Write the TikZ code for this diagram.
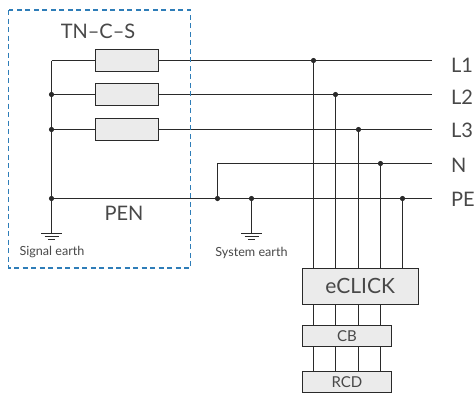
\documentclass[tikz,border=0pt]{standalone}
\usepackage{fontspec}
\setmainfont{Lato}
\definecolor{ink}{HTML}{2A2A2A}
\definecolor{boxfill}{HTML}{EBEBEB}
\definecolor{framecol}{HTML}{2E7DB8}
\definecolor{txt}{HTML}{484848}
\tikzset{
  wire/.style={draw=ink,line width=1.2pt},
  fuse/.style={draw=ink,fill=boxfill,line width=1.3pt,minimum width=63pt,minimum height=21.5pt,inner sep=0pt,anchor=west},
  module/.style={draw=ink,fill=boxfill,line width=1.3pt,inner sep=0pt,text=txt,anchor=north west},
  jn/.style={circle,fill=ink,inner sep=0pt,minimum size=5.2pt},
  lbl/.style={text=txt,font=\fontsize{20}{22}\selectfont,inner sep=0pt},
  small/.style={text=txt,font=\fontsize{12.6}{14}\selectfont,inner sep=0pt}
}
\begin{document}
\begin{tikzpicture}[x=1pt,y=-1pt]
\useasboundingbox (0,0) rectangle (476,392);
% fuses
\node[fuse] (f1) at (95,60.5) {};
\node[fuse] (f2) at (95,94.5) {};
\node[fuse] (f3) at (95,129.5) {};
% modules
\node[module,minimum width=116pt,minimum height=36.5pt,font=\fontsize{21}{23}\selectfont] (eclick) at (301.5,267.5) {eCLICK};
\node[module,minimum width=89.5pt,minimum height=21.5pt,font=\fontsize{15}{17}\selectfont] (cb) at (301.5,324.5) {CB};
\node[module,minimum width=89.5pt,minimum height=21.5pt,font=\fontsize{15}{17}\selectfont] (rcd) at (301.5,370.5) {RCD};
% free ends
\coordinate (a1) at (51.5,60.5);
\coordinate (a2) at (51.5,94.5);
\coordinate (a3) at (51.5,129.5);
\coordinate (a5) at (51.5,198.5);
\coordinate (g1) at (51.5,233.5);
\coordinate (e1) at (432,60.5);
\coordinate (e2) at (432,94.5);
\coordinate (e3) at (432,129.5);
\coordinate (e4) at (432,163.5);
\coordinate (e5) at (432,198.5);
\coordinate (nj) at (217.5,198.5);
\coordinate (nc) at (217.5,163.5);
\coordinate (sj) at (251.5,198.5);
\coordinate (g2) at (251.5,233.5);
% wires
\draw[wire] (a1) -- (f1.west);
\draw[wire] (a2) -- (f2.west);
\draw[wire] (a3) -- (f3.west);
\draw[wire] (a1) -- (g1);
\draw[wire] (f1.east) -- (e1);
\draw[wire] (f2.east) -- (e2);
\draw[wire] (f3.east) -- (e3);
\draw[wire] (nj) -- (nc) -- (e4);
\draw[wire] (a5) -- (e5);
\draw[wire] (sj) -- (g2);
% verticals
\foreach \x/\y/\n in {313.5/60.5/1,335.5/94.5/2,358.5/129.5/3,380.5/163.5/4}{
  \coordinate (v\n) at (\x,\y);
  \coordinate (t\n) at (\x,267.5);
  \draw[wire] (v\n) -- (t\n);
  \draw[wire] (\x,304) -- (\x,324.5);
  \draw[wire] (\x,346) -- (\x,370.5);
  \node[jn] at (v\n) {};
}
\coordinate (v5) at (402.5,198.5);
\coordinate (t5) at (402.5,267.5);
\draw[wire] (v5) -- (t5);
\node[jn] at (v5) {};
% junctions
\node[jn] at (a2) {};
\node[jn] at (a3) {};
\node[jn] at (a5) {};
\node[jn] at (nj) {};
\node[jn] at (sj) {};
% earth symbols
\foreach \g in {g1,g2}{
  \draw[wire] ([xshift=-10.5pt]\g) -- ([xshift=10.5pt]\g);
  \draw[wire] ([xshift=-7pt,yshift=-3pt]\g) -- ([xshift=7pt,yshift=-3pt]\g);
  \draw[wire] ([xshift=-3.5pt,yshift=-6pt]\g) -- ([xshift=3.5pt,yshift=-6pt]\g);
}
% dashed frame
\draw[framecol,line width=1.2pt,dash pattern=on 5pt off 3.5pt] (8.5,10) rectangle (190.5,268);
% texts
\node[lbl] (tncs) at (98,31) {TN–C–S};
\node[lbl] (pen) at (124,213) {PEN};
\node[small] (se) at (52,252.5) {Signal earth};
\node[small] (sy) at (251.5,252.5) {System earth};
\node[lbl,anchor=west] (l1) at (451,65.5) {L1};
\node[lbl,anchor=west] (l2) at (451,97) {L2};
\node[lbl,anchor=west] (l3) at (451,130.5) {L3};
\node[lbl,anchor=west] (ln) at (451,165) {N};
\node[lbl,anchor=west] (lpe) at (451,199) {PE};
\end{tikzpicture}
\end{document}
